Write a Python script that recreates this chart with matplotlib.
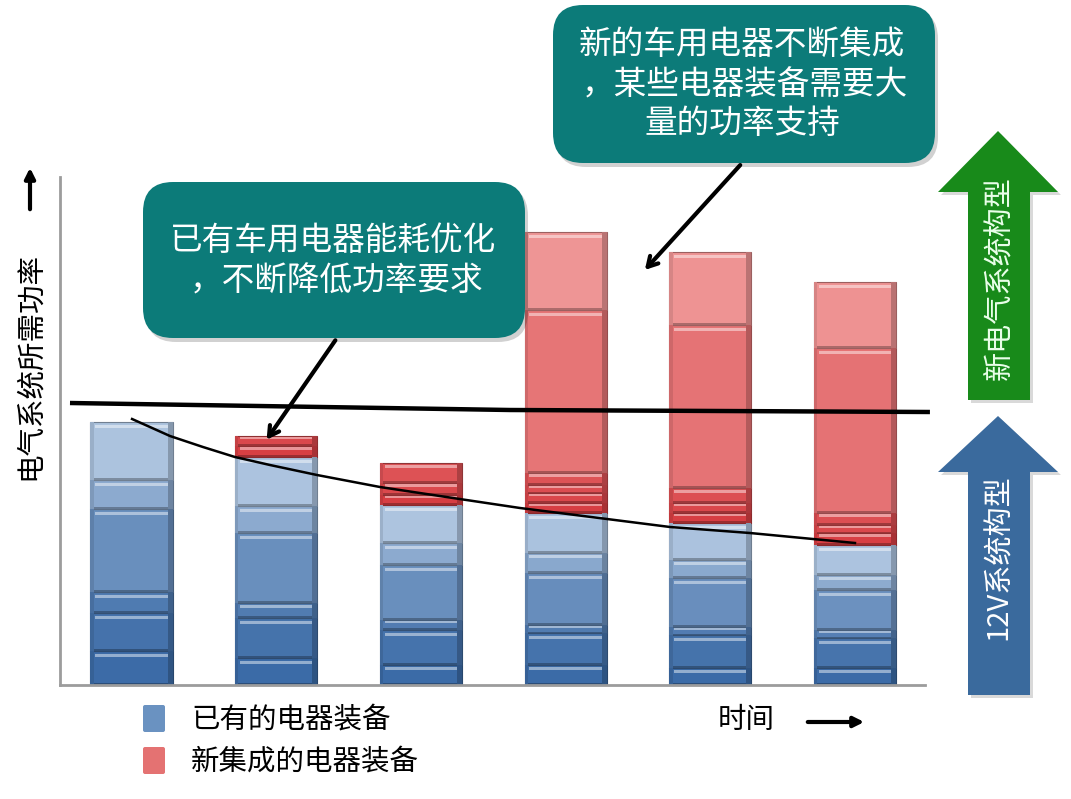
import matplotlib
matplotlib.use('Agg')
import matplotlib.pyplot as plt
from matplotlib.patches import FancyBboxPatch, Polygon
from matplotlib.colors import to_rgb
import numpy as np

plt.rcParams['font.family'] = ['Noto Sans CJK SC', 'DejaVu Sans']

# ---------------- data ----------------
periods = [0, 1, 2, 3, 4, 5]          # time steps (no tick labels)
existing_segments = [                 # 已有的电器装备, bottom -> top
    [34, 38, 21, 83, 29, 58],
    [27, 40, 15, 70, 27, 49],
    [20, 35, 10, 55, 22, 38],
    [20, 32, 8, 52, 20, 40],
    [17, 33, 8, 49, 18, 37],
    [17, 30, 8, 40, 15, 30],
]
new_segments = [                      # 新集成的电器装备, bottom -> top
    [],
    [11, 10],
    [10, 12, 20],
    [10, 10, 8, 12, 163, 78],
    [10, 10, 15, 163, 73],
    [12, 8, 12, 165, 66],
]
limit_x = [-0.425, 2.616, 5.518]      # 12V system limit line
limit_y = [282, 275, 273]
trend_x = [0.004, 0.266, 0.494, 0.715, 0.957, 1.282, 1.717, 2.222, 2.685,
           3.286, 3.722, 4.274, 5.0]  # optimisation trend
trend_y = [266, 249, 238, 228, 220, 210, 198, 187, 177, 166, 158, 152, 142]

legend_labels = ['已有的电器装备', '新集成的电器装备']
ylabel = '电气系统所需功率'
xlabel = '时间'
note1 = ['已有车用电器能耗优化', '，不断降低功率要求']
note2 = ['新的车用电器不断集成', '，某些电器装备需要大', '量的功率支持']
arrow_green_text = '新电气系统构型'
arrow_blue_text = '12V系统构型'

# ---------------- figure ----------------
W, H = 1071, 799
fig = plt.figure(figsize=(W / 100, H / 100), dpi=100)
fig.patch.set_facecolor('white')

ax = fig.add_axes([60 / W, (H - 685) / H, (925 - 60) / W, (685 - 177) / H])
ax.set_xlim(-0.494, 5.484)
ax.set_ylim(0, 508)
for s in ['top', 'right']:
    ax.spines[s].set_visible(False)
for s in ['left', 'bottom']:
    ax.spines[s].set_color('#9c9c9c')
    ax.spines[s].set_linewidth(2)
ax.set_xticks([])
ax.set_yticks([])
ax.patch.set_alpha(0)


def mix(c1, c2, t):
    a = np.array(to_rgb(c1))
    b = np.array(to_rgb(c2))
    return tuple(np.clip(a * (1 - t) + b * t, 0, 1))


BW = 0.567


def draw_seg(x, b, h, c):
    ax.bar(x, h, width=BW, bottom=b, color=c, edgecolor=mix(c, 'black', 0.35),
           linewidth=0.8, zorder=2)
    sh = min(2.2, h * 0.18)
    ax.bar(x, sh, width=BW, bottom=b, color=mix(c, 'black', 0.28), linewidth=0, zorder=2.1)
    ax.bar(x + BW / 2 - BW * 0.03, h, width=BW * 0.06, bottom=b,
           color=mix(c, 'black', 0.22), linewidth=0, zorder=2.1)
    ax.bar(x - BW / 2 + BW * 0.02, h, width=BW * 0.04, bottom=b,
           color=mix(c, 'black', 0.10), linewidth=0, zorder=2.1)
    hh = min(3.0, h * 0.22)
    off = min(2.5, h * 0.12)
    ax.bar(x, hh, width=BW * 0.88, bottom=b + h - hh - off,
           color=mix(c, 'white', 0.45), linewidth=0, zorder=2.2)


blue_dark, blue_light = '#3a6aa6', '#c3d5ea'
red_dark, red_light = '#d5353a', '#ef9797'

for x, blues, reds in zip(periods, existing_segments, new_segments):
    bottom = 0
    tot = sum(blues)
    for h in blues:
        t = ((bottom + h / 2) / tot) ** 1.6
        draw_seg(x, bottom, h, mix(blue_dark, blue_light, t))
        bottom += h
    base = bottom
    for h in reds:
        t = min(1.0, (bottom + h / 2 - base) / 250) ** 0.6
        draw_seg(x, bottom, h, mix(red_dark, red_light, t))
        bottom += h

ax.plot(limit_x, limit_y, color='black', lw=3.2, zorder=4, clip_on=False,
        solid_capstyle='butt')
ax.plot(trend_x, trend_y, color='black', lw=1.8, zorder=4, clip_on=False,
        solid_joinstyle='round')

ax.annotate('', xy=(0.923, 243), xytext=(1.420, 347), annotation_clip=False,
            arrowprops=dict(arrowstyle='->,head_length=0.7,head_width=0.4',
                            lw=3, color='black'), zorder=5)
ax.annotate('', xy=(3.535, 413), xytext=(4.22, 522), annotation_clip=False,
            arrowprops=dict(arrowstyle='->,head_length=0.7,head_width=0.4',
                            lw=3, color='black'), zorder=5)

# ---------------- overlay (pixel coordinates) ----------------
ov = fig.add_axes([0, 0, 1, 1], zorder=3)
ov.set_xlim(0, W)
ov.set_ylim(H, 0)
ov.axis('off')
ov.patch.set_alpha(0)

teal = '#0c7b79'
for (x0, y0, w, h) in [(143, 182, 382, 156), (553, 5, 382, 158)]:
    ov.add_patch(FancyBboxPatch((x0 + 3, y0 + 4), w, h,
                                boxstyle='round,pad=0,rounding_size=30',
                                fc='#000000', alpha=0.18, ec='none'))
    ov.add_patch(FancyBboxPatch((x0, y0), w, h,
                                boxstyle='round,pad=0,rounding_size=30',
                                fc=teal, ec='none'))

for line, (cx, cy) in zip(note1, [(333, 241), (336, 281)]):
    ov.text(cx, cy, line, ha='center', va='center', color='white', fontsize=23.5)
for line, (cx, cy) in zip(note2, [(742, 45), (745, 86), (742, 124)]):
    ov.text(cx, cy, line, ha='center', va='center', color='white', fontsize=23.5)

green_pts = [(968, 400), (968, 192), (938, 192), (998, 131), (1058, 192),
             (1030, 192), (1030, 400)]
blue_pts = [(968, 695), (968, 472), (938, 472), (998, 416), (1058, 472),
            (1030, 472), (1030, 695)]
for pts, col in [(green_pts, '#188a1a'), (blue_pts, '#3a6a9d')]:
    ov.add_patch(Polygon([(px + 3, py + 3) for px, py in pts], closed=True,
                         fc='black', alpha=0.15, ec='none'))
    ov.add_patch(Polygon(pts, closed=True, fc=col, ec='none'))
ov.text(999, 278, arrow_green_text, rotation=90, ha='center', va='center',
        color='#eaffea', fontsize=21)
ov.text(999, 557, arrow_blue_text, rotation=90, ha='center', va='center',
        color='white', fontsize=21)

ov.text(30, 366, ylabel, rotation=90, ha='center', va='center', fontsize=20.5,
        color='black')
ov.annotate('', xy=(30, 165), xytext=(30, 212),
            arrowprops=dict(arrowstyle='-|>,head_length=0.6,head_width=0.3',
                            lw=3, color='black'))

ov.add_patch(FancyBboxPatch((143, 705), 22, 27, boxstyle='round,pad=0,rounding_size=2',
                            fc='#6a92c1', ec='none'))
ov.add_patch(FancyBboxPatch((143, 747), 22, 27, boxstyle='round,pad=0,rounding_size=2',
                            fc='#e47272', ec='none'))
ov.text(191, 720, legend_labels[0], ha='left', va='center', fontsize=20.5)
ov.text(191, 762, legend_labels[1], ha='left', va='center', fontsize=20.5)

ov.text(746, 720, xlabel, ha='center', va='center', fontsize=20.5)
ov.annotate('', xy=(867, 722), xytext=(805, 722),
            arrowprops=dict(arrowstyle='-|>,head_length=0.6,head_width=0.3',
                            lw=3, color='black'))

fig.savefig('out.png', dpi=100)
